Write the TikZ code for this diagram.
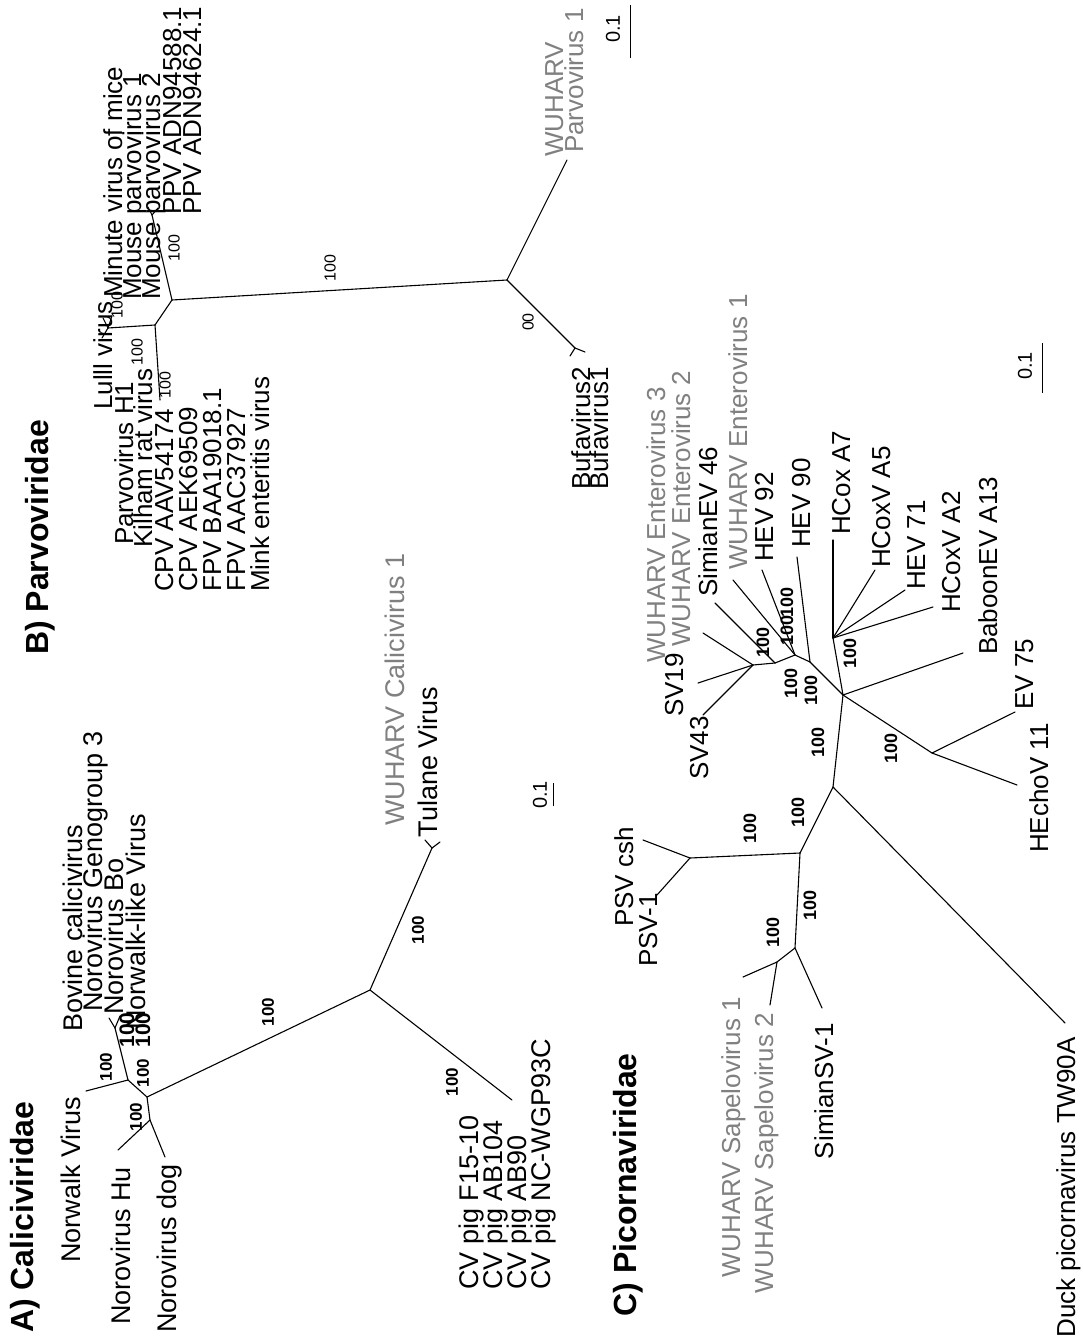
\documentclass[tikz,border=0pt]{standalone}
\usepackage{fontspec}
\setmainfont{Liberation Sans}
\definecolor{wu}{gray}{0.5}
\begin{document}
\begin{tikzpicture}[x=1pt,y=-1pt,
  br/.style={line width=1.1pt,line cap=round,line join=round},
  ttl/.style={rotate=90,inner sep=0pt,anchor=base west,font=\bfseries\fontsize{32}{32}\selectfont},
  lA/.style={rotate=90,inner sep=0pt,anchor=base west,font=\fontsize{27}{27}\selectfont},
  lB/.style={rotate=90,inner sep=0pt,anchor=base west,font=\fontsize{26}{26}\selectfont},
  gl/.style={rotate=90,inner sep=0pt,anchor=base west,text=wu,font=\fontsize{27}{27}\selectfont},
  bs/.style={rotate=90,inner sep=0pt,font=\bfseries\fontsize{17}{17}\selectfont},
  bsb/.style={rotate=90,inner sep=0pt,font=\bfseries\fontsize{21}{21}\selectfont},
  bsc/.style={rotate=90,inner sep=0pt,font=\bfseries\fontsize{18}{18}\selectfont},
  bsr/.style={rotate=90,inner sep=0pt,font=\fontsize{16}{16}\selectfont},
  sc/.style={rotate=90,inner sep=0pt,font=\fontsize{20}{20}\selectfont},
]
\useasboundingbox[fill=white] (0,0) rectangle (1083,1338);

% ================= Panel A =================
\node[ttl] (tA) at (33,1333) {A) Caliciviridae};
\node[lA] (tNW) at (80,1263) {Norwalk Virus};
\node[lA] (tHu) at (130,1325) {Norovirus Hu};
\node[lA] (tDog) at (176,1333) {Norovirus dog};
\node[lA] (tBov) at (82,1032) {Bovine calicivirus};
\node[lA] (tGen) at (102,1012) {Norovirus Genogroup 3};
\node[lA] (tBo) at (123,1015) {Norovirus Bo};
\node[lA] (tNLV) at (145,1030) {Norwalk-like Virus};
\node[gl,anchor=base east] (tWUC) at (404,553) {WUHARV Calicivirus 1};
\node[lA,anchor=base east] (tTul) at (437,687) {Tulane Virus};
\node[lA] (tCV1) at (478,1290) {CV pig F15-10};
\node[lA] (tCV2) at (502,1290) {CV pig AB104};
\node[lA] (tCV3) at (526,1290) {CV pig AB90};
\node[lA] (tCV4) at (550,1290) {CV pig NC-WGP93C};

\coordinate (aP1) at (147,1097);
\coordinate (aP2) at (128,1080);
\coordinate (aNW) at (86,1091);
\coordinate (aBv) at (115,1028);
\coordinate (aBv1) at (109,1018);
\coordinate (aBv2) at (120,1016);
\coordinate (aP3) at (150,1120);
\coordinate (aHu) at (118,1150);
\coordinate (aDog) at (165,1157);
\coordinate (aR) at (370,990);
\coordinate (aT) at (432,848);
\coordinate (aT1) at (425,840);
\coordinate (aT2) at (440,842);
\coordinate (aC) at (512,1100);

\draw[br] (aR) -- (aP1);
\draw[br] (aP1) -- (aP2);
\draw[br] (aP2) -- (aNW);
\draw[br] (aP2) -- (aBv);
\draw[br] (aBv) -- (aBv1);
\draw[br] (aBv) -- (aBv2);
\draw[br] (aP1) -- (aP3);
\draw[br] (aP3) -- (aHu);
\draw[br] (aP3) -- (aDog);
\draw[br] (aR) -- (aT);
\draw[br] (aT) -- (aT1);
\draw[br] (aT) -- (aT2);
\draw[br] (aR) -- (aC);

\node[bs] (bA1) at (106,1067) {100};
\node[bsb] (bA2) at (127,1030) {100};
\node[bsb] (bA3) at (143,1030) {100};
\node[bs] (bA4) at (143,1073) {100};
\node[bs] (bA5) at (136,1117) {100};
\node[bs] (bA6) at (268,1012) {100};
\node[bs] (bA7) at (418,930) {100};
\node[bs] (bA8) at (452,1082) {100};

\node[sc] (sA) at (540,795) {0.1};
\coordinate (sA1) at (553,783);
\coordinate (sA2) at (553,806);
\draw[line width=1pt] (sA1) -- (sA2);

% ================= Panel B =================
\node[ttl] (tB) at (48,655) {B) Parvoviridae};
\node[lB] (tCPV1) at (173,592) {CPV AAV54174};
\node[lB] (tCPV2) at (197,592) {CPV AEK69509};
\node[lB] (tFPV1) at (221,592) {FPV BAA19018.1};
\node[lB] (tFPV2) at (245,592) {FPV AAC37927};
\node[lB] (tMink) at (269,592) {Mink enteritis virus};
\node[lB] (tLul) at (112,410) {Lulll virus};
\node[lB] (tPH1) at (133,545) {Parvovirus H1};
\node[lB] (tKil) at (152,548) {Kilham rat virus};
\node[lB] (tMVM) at (122,298) {Minute virus of mice};
\node[lB] (tMP1) at (141,300) {Mouse parvovirus 1};
\node[lB] (tMP2) at (160,300) {Mouse parvovirus 2};
\node[lB] (tPPV1) at (181,215) {PPV ADN94588.1};
\node[lB] (tPPV2) at (201,215) {PPV ADN94624.1};
\node[gl,font=\fontsize{26}{26}\selectfont] (tWUP1) at (563,157) {WUHARV};
\node[gl,font=\fontsize{26}{26}\selectfont] (tWUP2) at (583,153) {Parvovirus 1};
\node[lB] (tBuf2) at (590,490) {Bufavirus2};
\node[lB] (tBuf1) at (608,490) {Bufavirus1};

\coordinate (bMid) at (172,300);
\coordinate (bPPV) at (152,215);
\coordinate (bPPVa) at (148,207);
\coordinate (bPPVb) at (158,208);
\coordinate (bN2) at (507,280);
\coordinate (bWU) at (567,160);
\coordinate (bBu) at (575,348);
\coordinate (bBu1) at (570,356);
\coordinate (bBu2) at (585,352);
\coordinate (bN3) at (155,325);
\coordinate (bN4) at (108,328);
\coordinate (bN4a) at (103,318);
\coordinate (bN4b) at (112,316);
\coordinate (bN4c) at (102,338);
\coordinate (bCPV) at (160,400);

\draw[br] (bMid) -- (bPPV);
\draw[br] (bPPV) -- (bPPVa);
\draw[br] (bPPV) -- (bPPVb);
\draw[br] (bMid) -- (bN2);
\draw[br] (bN2) -- (bWU);
\draw[br] (bN2) -- (bBu);
\draw[br] (bBu) -- (bBu1);
\draw[br] (bBu) -- (bBu2);
\draw[br] (bMid) -- (bN3);
\draw[br] (bN3) -- (bN4);
\draw[br] (bN4) -- (bN4a);
\draw[br] (bN4) -- (bN4b);
\draw[br] (bN4) -- (bN4c);
\draw[br] (bN3) -- (bCPV);

\node[bsr] (bB1) at (174,248) {100};
\node[bsr] (bB2) at (330,268) {100};
\node[bsr] (bB3) at (528,322) {00};
\node[bsr] (bB4) at (117,305) {100};
\node[bsr] (bB5) at (137,352) {100};
\node[bsr] (bB6) at (165,385) {100};

\node[sc] (sB) at (613,29) {0.1};
\coordinate (sB1) at (630,5);
\coordinate (sB2) at (630,58);
\draw[line width=1pt] (sB1) -- (sB2);

% ================= Panel C =================
\node[ttl,anchor=base east] (tC) at (636,1053) {C) Picornaviridae};
\node[lB] (tPSVc) at (633,927) {PSV csh};
\node[lB] (tPSV1) at (657,967) {PSV-1};
\node[gl,font=\fontsize{26}{26}\selectfont,anchor=base east] (tWUS1) at (740,997) {WUHARV Sapelovirus 1};
\node[gl,font=\fontsize{26}{26}\selectfont,anchor=base east] (tWUS2) at (773,1013) {WUHARV Sapelovirus 2};
\node[lB,anchor=base east] (tSSV) at (833,1023) {SimianSV-1};
\node[lB,anchor=base east] (tDuck) at (1075,1037) {Duck picornavirus TW90A};
\node[gl,font=\fontsize{26}{26}\selectfont] (tWE3) at (665,663) {WUHARV Enterovirus 3};
\node[gl,font=\fontsize{26}{26}\selectfont] (tWE2) at (690,647) {WUHARV Enterovirus 2};
\node[lB] (tSEV) at (717,597) {SimianEV 46};
\node[gl,font=\fontsize{26}{26}\selectfont] (tWE1) at (747,570) {WUHARV Enterovirus 1};
\node[lB] (tH92) at (773,562) {HEV 92};
\node[lB] (tH90) at (810,548) {HEV 90};
\node[lB] (tHA7) at (850,535) {HCox A7};
\node[lB] (tHA5) at (890,568) {HCoxV A5};
\node[lB] (tH71) at (925,590) {HEV 71};
\node[lB] (tHA2) at (960,613) {HCoxV A2};
\node[lB] (tBab) at (997,655) {BaboonEV A13};
\node[lB] (tEV75) at (1033,710) {EV 75};
\node[lB] (tHE11) at (1048,853) {HEchoV 11};
\node[lB] (tSV19) at (683,717) {SV19};
\node[lB] (tSV43) at (708,780) {SV43};

\coordinate (cE1) at (810,662);
\coordinate (cSV) at (753,665);
\coordinate (cSV19) at (698,683);
\coordinate (cSV43) at (703,715);
\coordinate (cWE) at (703,633);
\coordinate (cX) at (775,663);
\coordinate (cSEV) at (715,603);
\coordinate (cY) at (795,655);
\coordinate (cWE1) at (733,580);
\coordinate (cH92) at (762,570);
\coordinate (cH90) at (797,557);
\coordinate (cE3) at (843,695);
\coordinate (cH) at (833,638);
\coordinate (cHA7) at (833,540);
\coordinate (cHA5) at (875,570);
\coordinate (cH71) at (905,590);
\coordinate (cHA2) at (933,607);
\coordinate (cBab) at (963,653);
\coordinate (cE4) at (932,753);
\coordinate (cEV75) at (1015,712);
\coordinate (cHE11) at (1017,785);
\coordinate (cE6) at (833,787);
\coordinate (cDuck) at (1065,1023);
\coordinate (cE7) at (800,853);
\coordinate (cPSV) at (690,858);
\coordinate (cPSVc) at (643,840);
\coordinate (cPSV1) at (657,895);
\coordinate (cE8) at (795,948);
\coordinate (cE9) at (777,962);
\coordinate (cS1) at (743,977);
\coordinate (cS2) at (770,1005);
\coordinate (cSSV) at (822,1008);

\draw[br] (cSV) -- (cSV19);
\draw[br] (cSV) -- (cSV43);
\draw[br] (cSV) -- (cWE);
\draw[br] (cSV) -- (cX);
\draw[br] (cX) -- (cSEV);
\draw[br] (cX) -- (cY);
\draw[br] (cY) -- (cWE1);
\draw[br] (cY) -- (cH92);
\draw[br] (cY) -- (cE1);
\draw[br] (cE1) -- (cH90);
\draw[br] (cE1) -- (cE3);
\draw[br] (cE3) -- (cH);
\draw[br] (cH) -- (cHA7);
\draw[br] (cH) -- (cHA5);
\draw[br] (cH) -- (cH71);
\draw[br] (cH) -- (cHA2);
\draw[br] (cE3) -- (cBab);
\draw[br] (cE3) -- (cE4);
\draw[br] (cE4) -- (cEV75);
\draw[br] (cE4) -- (cHE11);
\draw[br] (cE3) -- (cE6);
\draw[br] (cE6) -- (cDuck);
\draw[br] (cE6) -- (cE7);
\draw[br] (cE7) -- (cPSV);
\draw[br] (cPSV) -- (cPSVc);
\draw[br] (cPSV) -- (cPSV1);
\draw[br] (cE7) -- (cE8);
\draw[br] (cE8) -- (cE9);
\draw[br] (cE9) -- (cS1);
\draw[br] (cE9) -- (cS2);
\draw[br] (cE8) -- (cSSV);

\node[bsc] (bC1) at (763,642) {100};
\node[bsc] (bC2) at (787,602) {100};
\node[bsc] (bC3) at (787,630) {100};
\node[bsc] (bC4) at (791,683) {100};
\node[bsc] (bC5) at (811,690) {100};
\node[bsc] (bC6) at (818,742) {100};
\node[bsc] (bC7) at (850,653) {100};
\node[bsc] (bC8) at (891,748) {100};
\node[bsc] (bC9) at (798,812) {100};
\node[bsc] (bC10) at (750,828) {100};
\node[bsc] (bC11) at (810,905) {100};
\node[bsc] (bC12) at (773,932) {100};

\node[sc] (sC) at (1025,366) {0.1};
\coordinate (sC1) at (1042,343);
\coordinate (sC2) at (1042,393);
\draw[line width=1pt] (sC1) -- (sC2);
\end{tikzpicture}
\end{document}
